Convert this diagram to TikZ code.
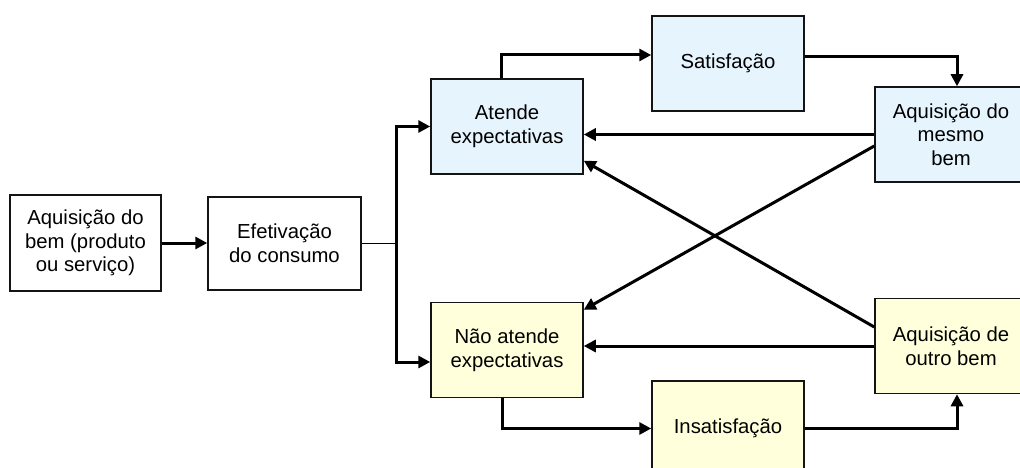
\documentclass[tikz,border=0pt]{standalone}
\usepackage{fontspec}
\setmainfont{Liberation Sans}
\usetikzlibrary{arrows.meta,calc}
\definecolor{boxblue}{RGB}{230,244,254}
\definecolor{boxyellow}{RGB}{255,255,219}
\definecolor{edge}{RGB}{20,20,20}
\begin{document}
\begin{tikzpicture}[x=1pt,y=-1pt,
  box/.style={draw=edge,line width=1.5pt,minimum width=152pt,minimum height=95pt,
    inner sep=0pt,align=center,font=\fontsize{20.3}{23.7}\selectfont},
  bluebox/.style={box,fill=boxblue},
  yellowbox/.style={box,fill=boxyellow},
  plainbox/.style={box,fill=white},
  flow/.style={line width=3pt,draw=black,-{Triangle[length=12pt,width=12pt]}},
  thinline/.style={line width=1pt,draw=black}]
\useasboundingbox (0,0) rectangle (1020,468);
\clip (0,0) rectangle (1020,468);

% boxes
\node[plainbox,minimum width=151pt,minimum height=96pt] (acq) at (85.5,243) {Aquisição do\\bem (produto\\ou serviço)};
\node[plainbox,minimum width=153pt,minimum height=93pt] (efet) at (284.5,243.5) {Efetivação\\do consumo};
\node[bluebox] (atende) at (507,126.5) {Atende\\expectativas};
\node[bluebox] (satis) at (728,63.5) {Satisfação};
\node[bluebox] (mesmo) at (951,134.5) {Aquisição do\\mesmo\\bem};
\node[yellowbox] (nao) at (507,350) {Não atende\\expectativas};
\node[yellowbox] (insat) at (728,428.5) {Insatisfação};
\node[yellowbox] (outro) at (951,346) {Aquisição de\\outro bem};

% split point after consumption
\coordinate (split) at (396,243.5);

% connectors
\draw[flow] (acq.east) -- (acq.east -| efet.west);
\draw[thinline] (efet.east) -- (split);
\draw[flow] (split) |- (atende.west);
\draw[flow] (split) |- ($(nao.west)+(0,12)$);

\draw[flow] ($(atende.north)+(-6,0)$) |- ($(satis.west)+(0,-8.5)$);
\draw[flow] ($(satis.east)+(0,-6.5)$) -| ($(mesmo.north)+(6,0)$);

\draw[flow] (mesmo.west) -- (mesmo.west -| atende.east);
\draw[flow] ($(mesmo.west)+(0,11.5)$) -- ($(nao.north east)+(0,8)$);
\draw[flow] ($(outro.west)+(0,-19)$) -- ($(atende.south east)+(0,-14)$);
\draw[flow] (outro.west) -- (outro.west -| nao.east);

\draw[flow] ($(nao.south)+(-5,0)$) |- (insat.west);
\draw[flow] (insat.east) -| ($(outro.south)+(6,0)$);
\end{tikzpicture}
\end{document}
